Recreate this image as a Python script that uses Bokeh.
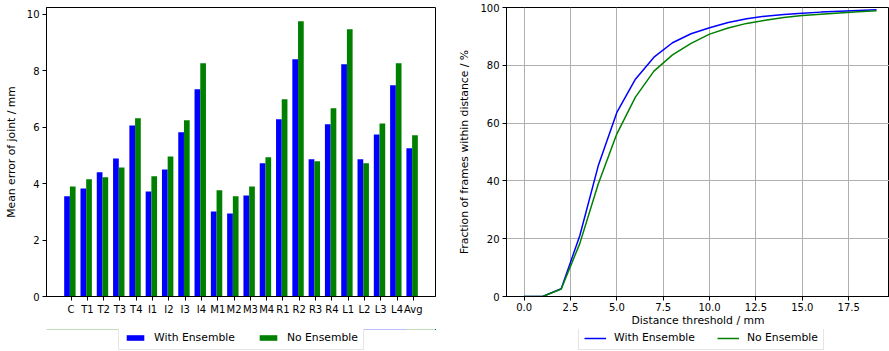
import numpy as np
from bokeh.plotting import figure
from bokeh.models import (ColumnDataSource, FixedTicker, Legend, LegendItem,
                          Range1d, PrintfTickFormatter)
from bokeh.layouts import row, column
from bokeh.embed import file_html
from bokeh.resources import INLINE

# ---------------- data ----------------
joints = ["C", "T1", "T2", "T3", "T4", "I1", "I2", "I3", "I4",
          "M1", "M2", "M3", "M4", "R1", "R2", "R3", "R4",
          "L1", "L2", "L3", "L4", "Avg"]
err_with_ensemble = [3.55, 3.83, 4.40, 4.89, 6.06, 3.72, 4.50, 5.82, 7.34,
                     3.01, 2.94, 3.58, 4.72, 6.28, 8.40, 4.86, 6.10,
                     8.23, 4.86, 5.74, 7.48, 5.25]
err_no_ensemble = [3.90, 4.15, 4.22, 4.57, 6.31, 4.26, 4.96, 6.24, 8.26,
                   3.76, 3.55, 3.90, 4.93, 6.99, 9.75, 4.79, 6.67,
                   9.47, 4.72, 6.13, 8.26, 5.71]

thresholds = [0, 1, 2, 3, 4, 5, 6, 7, 8, 9, 10, 11, 12, 13, 14, 15, 16, 17, 18, 19]
frac_with_ensemble = [0.0, 0.0, 2.7, 21.0, 45.3, 63.7, 75.2, 82.8, 87.8, 90.9,
                      93.0, 94.8, 96.1, 97.0, 97.6, 98.0, 98.4, 98.7, 99.0, 99.2]
frac_no_ensemble = [0.0, 0.0, 2.6, 18.3, 39.0, 56.3, 69.0, 78.0, 83.6, 87.6,
                    90.8, 92.9, 94.5, 95.6, 96.5, 97.2, 97.7, 98.1, 98.5, 98.9]

y_ticks_left = [0, 2, 4, 6, 8, 10]
y_ticks_right = [0, 20, 40, 60, 80, 100]
x_ticks_right = [0, 2.5, 5, 7.5, 10, 12.5, 15, 17.5]

FONT = "DejaVu Sans"
LABEL_SIZE = "10.8px"
TICK_SIZE = "10px"
BLUE = "#0000ff"
GREEN = "#008000"
BAR_W = 0.35
MAIN_H = 329
LEG_H = 22


def style_axis(ax):
    ax.axis_line_color = "black"
    ax.axis_line_width = 1
    ax.major_tick_line_color = "black"
    ax.major_tick_line_width = 1
    ax.major_tick_out = 4
    ax.major_tick_in = 0
    ax.minor_tick_out = 0
    ax.minor_tick_in = 0
    ax.major_label_text_font = FONT
    ax.major_label_text_font_size = TICK_SIZE
    ax.major_label_text_color = "black"
    ax.major_label_standoff = 3
    ax.axis_label_text_font = FONT
    ax.axis_label_text_font_style = "normal"
    ax.axis_label_text_font_size = LABEL_SIZE
    ax.axis_label_text_color = "black"
    ax.axis_label_standoff = 6


def legend_figure(width):
    # a strip under each chart that only carries the legend; its y-range lies
    # below zero so the renderers that supply the swatches stay out of view
    lf = figure(width=width, height=LEG_H, output_backend="svg",
                toolbar_location=None, x_axis_type=None, y_axis_type=None,
                x_range=Range1d(0, 1), y_range=Range1d(-2, -1),
                min_border_left=0, min_border_right=0, min_border_top=0,
                min_border_bottom=0)
    lf.outline_line_color = None
    lf.background_fill_color = "white"
    lf.border_fill_color = "white"
    return lf


def add_legend(lf, items, glyph_h):
    leg = Legend(items=items, orientation="horizontal", location=(72, 1),
                 label_text_font=FONT, label_text_font_size=LABEL_SIZE,
                 label_text_color="black",
                 glyph_width=22, glyph_height=glyph_h, label_height=10,
                 padding=5, spacing=22, label_standoff=8, margin=0,
                 border_line_color="#cccccc", border_line_width=1,
                 background_fill_color="white", background_fill_alpha=1.0)
    lf.add_layout(leg, "center")


# ---------------- left: bar chart ----------------
idx = np.arange(len(joints))
src = ColumnDataSource(dict(
    xb=idx - 0.25, xg=idx + 0.10,
    yb=err_with_ensemble, yg=err_no_ensemble))

p1 = figure(width=455, height=MAIN_H, output_backend="svg", toolbar_location=None,
            x_range=Range1d(-1.51, 22.36), y_range=Range1d(0, 10.2375),
            min_border_left=46, min_border_right=20, min_border_top=7,
            min_border_bottom=33)
p1.outline_line_color = "black"
p1.outline_line_width = 1
p1.xgrid.visible = False
p1.ygrid.visible = False
p1.background_fill_color = "white"
p1.border_fill_color = "white"

p1.vbar(x="xb", top="yb", width=BAR_W, bottom=0, source=src,
        fill_color=BLUE, line_color=None)
p1.vbar(x="xg", top="yg", width=BAR_W, bottom=0, source=src,
        fill_color=GREEN, line_color=None)

p1.xaxis.ticker = FixedTicker(ticks=list(range(len(joints))))
p1.xaxis.major_label_overrides = {i: j for i, j in enumerate(joints)}
p1.yaxis.ticker = FixedTicker(ticks=y_ticks_left)
p1.yaxis.axis_label = "Mean error of joint / mm"
style_axis(p1.xaxis[0])
style_axis(p1.yaxis[0])

lf1 = legend_figure(455)
sb = lf1.vbar(x="xb", top="yb", width=BAR_W, bottom=0, source=src,
              fill_color=BLUE, line_color=None)
sg = lf1.vbar(x="xg", top="yg", width=BAR_W, bottom=0, source=src,
              fill_color=GREEN, line_color=None)
add_legend(lf1, [LegendItem(label="With Ensemble", renderers=[sb]),
                 LegendItem(label="No Ensemble", renderers=[sg])], 7)

# ---------------- right: cumulative curves ----------------
p2 = figure(width=434, height=MAIN_H, output_backend="svg", toolbar_location=None,
            x_range=Range1d(-0.95, 19.70), y_range=Range1d(0, 100),
            min_border_left=51, min_border_right=0, min_border_top=7,
            min_border_bottom=33)
p2.outline_line_color = "black"
p2.outline_line_width = 1
p2.background_fill_color = "white"
p2.border_fill_color = "white"

for g in (p2.xgrid[0], p2.ygrid[0]):
    g.grid_line_color = "#b0b0b0"
    g.grid_line_width = 1

p2.line(thresholds, frac_with_ensemble, line_color=BLUE, line_width=1.5)
p2.line(thresholds, frac_no_ensemble, line_color=GREEN, line_width=1.5)

p2.xaxis.ticker = FixedTicker(ticks=x_ticks_right)
p2.xaxis.formatter = PrintfTickFormatter(format="%.1f")
p2.yaxis.ticker = FixedTicker(ticks=y_ticks_right)
p2.xgrid.ticker = FixedTicker(ticks=x_ticks_right)
p2.ygrid.ticker = FixedTicker(ticks=y_ticks_right)
p2.xaxis.axis_label = "Distance threshold / mm"
p2.yaxis.axis_label = "Fraction of frames within distance / %"
style_axis(p2.xaxis[0])
style_axis(p2.yaxis[0])
p2.xaxis[0].major_label_standoff = 2
p2.xaxis[0].axis_label_standoff = 0

lf2 = legend_figure(434)
sl1 = lf2.line(thresholds, frac_with_ensemble, line_color=BLUE, line_width=1.5)
sl2 = lf2.line(thresholds, frac_no_ensemble, line_color=GREEN, line_width=1.5)
add_legend(lf2, [LegendItem(label="With Ensemble", renderers=[sl1]),
                 LegendItem(label="No Ensemble", renderers=[sl2])], 10)

layout = row(column(p1, lf1, spacing=0), column(p2, lf2, spacing=0), spacing=0)
open("out.html", "w").write(file_html(layout, INLINE))
